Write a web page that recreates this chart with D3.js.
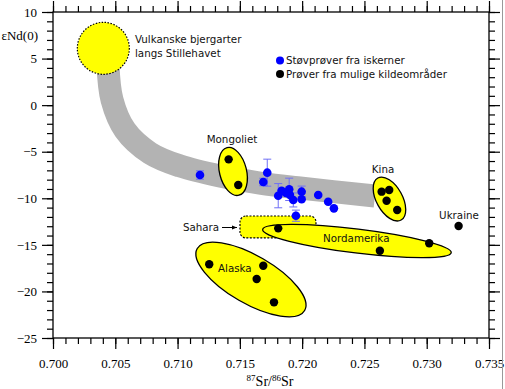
<!DOCTYPE html>
<html>
<head>
<meta charset="utf-8">
<script src="https://cdn.jsdelivr.net/npm/d3@7"></script>
<style>
  body { margin: 0; background: #fff; }
  svg { display: block; }
</style>
</head>
<body>
<div id="chart"></div>
<script>
// ice-core dust samples: [87Sr/86Sr, eNd(0), error]
const dustSamples = [
  [0.71180, -7.50, 0.45],
  [0.71720, -7.25, 1.45],
  [0.71688, -8.25, 0.40],
  [0.71808, -9.72, 1.30],
  [0.71835, -9.19, 0],
  [0.71870, -9.43, 0],
  [0.71896, -9.04, 1.20],
  [0.71902, -9.65, 0],
  [0.71929, -10.18, 0.75],
  [0.71996, -9.29, 0.60],
  [0.71996, -10.11, 0],
  [0.72129, -9.65, 0],
  [0.72209, -10.37, 0],
  [0.72255, -11.08, 0],
  [0.71950, -11.87, 0.60]
];

// source area samples
const sourceSamples = [
  [0.7141, -5.82], [0.71487, -8.57],                                    // Mongoliet
  [0.71808, -13.23],                                                    // Sahara
  [0.71254, -17.09], [0.71688, -17.24], [0.71635, -18.67], [0.71774, -21.17], // Alaska
  [0.72638, -9.29], [0.72699, -9.11], [0.72678, -10.26], [0.72763, -11.26],   // Kina
  [0.73256, -12.98],                                                    // Ukraine
  [0.73020, -14.83], [0.72624, -15.63]                                  // Nordamerika
];

// mixing band centre line
const bandLine = [
  [0.70441, 4.31], [0.70474, 0.55], [0.70578, -2.67], [0.70778, -5.14],
  [0.71019, -6.53], [0.71340, -7.61], [0.71661, -8.36], [0.71982, -8.90],
  [0.72584, -9.76]
];

// source regions: centre [x, y], then semi-axes (px) and angle
const regionNames = ['Mongoliet', 'Kina', 'Alaska', 'Nordamerika'];
const regionCentres = [[0.71445, -7.12], [0.72701, -10.08], [0.71589, -18.72], [0.72440, -14.59]];
const regionShapes = [[24.5, 13.5, 76], [24, 13, 61], [62, 24, 30], [95, 12, 7]];
const saharaBox = [[0.71501, -11.90], [0.72111, -14.26]];
const volcanicCentre = [0.70404, 6.10];

const xTicks = [0.700, 0.705, 0.710, 0.715, 0.720, 0.725, 0.730, 0.735];
const yTicks = [-25, -20, -15, -10, -5, 0, 5, 10];
const legendLabels = ['Støvprøver fra iskerner', 'Prøver fra mulige kildeområder'];

const width = 505, height = 389;
const margin = {top: 12, right: 16, bottom: 51, left: 53};

const svg = d3.select('#chart').append('svg')
  .attr('width', width).attr('height', height);

const x = d3.scaleLinear().domain([0.700, 0.735]).range([margin.left, width - margin.right]);
const y = d3.scaleLinear().domain([-25, 10]).range([height - margin.bottom, margin.top]);

const sans = 'DejaVu Sans, Verdana, sans-serif';
const serif = 'Liberation Serif, Times New Roman, serif';

// GRAY BAND
svg.append('path')
  .datum(bandLine)
  .attr('d', d3.line().x(d => x(d[0])).y(d => y(d[1])).curve(d3.curveCatmullRom))
  .attr('fill', 'none')
  .attr('stroke', '#b3b3b3')
  .attr('stroke-width', 23);

// volcanic circle
svg.append('circle')
  .attr('cx', x(volcanicCentre[0])).attr('cy', y(volcanicCentre[1]))
  .attr('r', 26)
  .attr('fill', '#ffff00')
  .attr('stroke', '#000').attr('stroke-width', 1.2)
  .attr('stroke-dasharray', '1.5,1.5');

// sahara box fill
const sb = svg.append('rect')
  .attr('x', x(saharaBox[0][0])).attr('y', y(saharaBox[0][1]))
  .attr('width', x(saharaBox[1][0]) - x(saharaBox[0][0]))
  .attr('height', y(saharaBox[1][1]) - y(saharaBox[0][1]))
  .attr('rx', 6)
  .attr('fill', '#ffff00');

// ellipses
svg.selectAll('ellipse.region')
  .data(regionCentres)
  .join('ellipse')
  .classed('region', true)
  .attr('transform', (d, i) => `translate(${x(d[0])},${y(d[1])}) rotate(${regionShapes[i][2]})`)
  .attr('rx', (d, i) => regionShapes[i][0])
  .attr('ry', (d, i) => regionShapes[i][1])
  .attr('fill', '#ffff00')
  .attr('stroke', '#000')
  .attr('stroke-width', 1.3);

// sahara dashed border on top
sb.clone()
  .attr('fill', 'none')
  .attr('stroke', '#000').attr('stroke-width', 1.2)
  .attr('stroke-dasharray', '2,1.5');

// error bars
const eb = svg.append('g').attr('stroke', '#6f6ff5').attr('stroke-width', 1);
dustSamples.filter(d => d[2] > 0).forEach(d => {
  const cx = x(d[0]), y1 = y(d[1] + d[2]), y2 = y(d[1] - d[2]);
  eb.append('line').attr('x1', cx).attr('x2', cx).attr('y1', y1).attr('y2', y2);
  eb.append('line').attr('x1', cx - 4).attr('x2', cx + 4).attr('y1', y1).attr('y2', y1);
  eb.append('line').attr('x1', cx - 4).attr('x2', cx + 4).attr('y1', y2).attr('y2', y2);
});

svg.append('g').selectAll('circle')
  .data(dustSamples)
  .join('circle')
  .attr('cx', d => x(d[0])).attr('cy', d => y(d[1]))
  .attr('r', 4.3)
  .attr('fill', '#0000ff');

svg.append('g').selectAll('circle')
  .data(sourceSamples)
  .join('circle')
  .attr('cx', d => x(d[0])).attr('cy', d => y(d[1]))
  .attr('r', 4.2)
  .attr('fill', '#000');

// LABELS
const lbl = (tx, ty, t, anchor) => svg.append('text')
  .attr('x', tx).attr('y', ty).text(t)
  .attr('text-anchor', anchor || 'start')
  .style('font-family', sans).style('font-size', '10.3px').attr('fill', '#111');

lbl(135, 43, 'Vulkanske bjergarter');
lbl(135, 57, 'langs Stillehavet');
lbl(232, 143, 'Mongoliet', 'middle');
lbl(383, 173, 'Kina', 'middle');
lbl(459, 219, 'Ukraine', 'middle');
lbl(201, 231, 'Sahara', 'middle');
lbl(323, 242, 'Nordamerika');
lbl(218, 272, 'Alaska');

svg.append('defs').append('marker')
  .attr('id', 'arr').attr('viewBox', '0 0 10 10')
  .attr('refX', 10).attr('refY', 5)
  .attr('markerWidth', 5).attr('markerHeight', 5)
  .attr('orient', 'auto')
  .append('path').attr('d', 'M0,1 L10,5 L0,9 Z').attr('fill', '#000');
svg.append('line')
  .attr('x1', 222).attr('x2', 237).attr('y1', 227.5).attr('y2', 227.5)
  .attr('stroke', '#000').attr('stroke-width', 1)
  .attr('marker-end', 'url(#arr)');

// legend
const leg = svg.append('g');
legendLabels.forEach((t, i) => {
  leg.append('circle').attr('cx', 280).attr('cy', 60.5 + i * 13.5).attr('r', 4)
    .attr('fill', i === 0 ? '#0000ff' : '#000');
  leg.append('text').attr('x', 286).attr('y', 64 + i * 13.5).text(t)
    .style('font-family', sans).style('font-size', '10.3px').attr('fill', '#111');
});

// AXES
const minorX = d3.range(0, 36).map(i => 0.700 + i * 0.001);
const minorY = d3.range(-25, 11);
const styleAxis = g => {
  g.select('.domain').remove();
  g.selectAll('.tick line').attr('stroke', '#000').attr('stroke-width', 1.2);
  g.selectAll('text').style('font-family', serif).style('font-size', '13px').attr('fill', '#000');
};
const H = height - margin.bottom;
svg.append('g').attr('transform', `translate(0,${H})`)
  .call(d3.axisBottom(x).tickValues(minorX).tickSize(6).tickFormat(''))
  .call(styleAxis);
svg.append('g').attr('transform', `translate(0,${H})`)
  .call(d3.axisBottom(x).tickValues(xTicks).tickSize(11).tickPadding(10).tickFormat(d3.format('.3f')))
  .call(styleAxis);
svg.append('g').attr('transform', `translate(0,${margin.top})`)
  .call(d3.axisTop(x).tickValues(minorX).tickSize(6).tickFormat(''))
  .call(styleAxis);
svg.append('g').attr('transform', `translate(0,${margin.top})`)
  .call(d3.axisTop(x).tickValues(xTicks).tickSize(11).tickFormat(''))
  .call(styleAxis);
svg.append('g').attr('transform', `translate(${margin.left},0)`)
  .call(d3.axisLeft(y).tickValues(minorY).tickSize(6).tickFormat(''))
  .call(styleAxis);
svg.append('g').attr('transform', `translate(${margin.left},0)`)
  .call(d3.axisLeft(y).tickValues(yTicks).tickSize(11).tickPadding(5))
  .call(styleAxis);
const R = width - margin.right;
svg.append('g').attr('transform', `translate(${R},0)`)
  .call(d3.axisRight(y).tickValues(minorY).tickSize(6).tickFormat(''))
  .call(styleAxis);
svg.append('g').attr('transform', `translate(${R},0)`)
  .call(d3.axisRight(y).tickValues(yTicks).tickSize(11).tickFormat(''))
  .call(styleAxis);

svg.append('rect')
  .attr('x', margin.left).attr('y', margin.top)
  .attr('width', R - margin.left).attr('height', H - margin.top)
  .attr('fill', 'none').attr('stroke', '#000').attr('stroke-width', 1.3);

// axis titles
const xt = svg.append('text').attr('x', 270).attr('y', 386)
  .attr('text-anchor', 'middle')
  .style('font-family', serif).style('font-size', '14px');
xt.append('tspan').attr('baseline-shift', 'super').style('font-size', '9px').text('87');
xt.append('tspan').text('Sr/');
xt.append('tspan').attr('baseline-shift', 'super').style('font-size', '9px').text('86');
xt.append('tspan').text('Sr');

svg.append('text').attr('x', 38).attr('y', 40)
  .attr('text-anchor', 'end')
  .style('font-family', serif).style('font-size', '13px')
  .text('εNd(0)');

// right image border
svg.append('line').attr('x1', 502.5).attr('x2', 502.5).attr('y1', 0).attr('y2', height)
  .attr('stroke', '#999').attr('stroke-width', 1);
</script>
</body>
</html>
